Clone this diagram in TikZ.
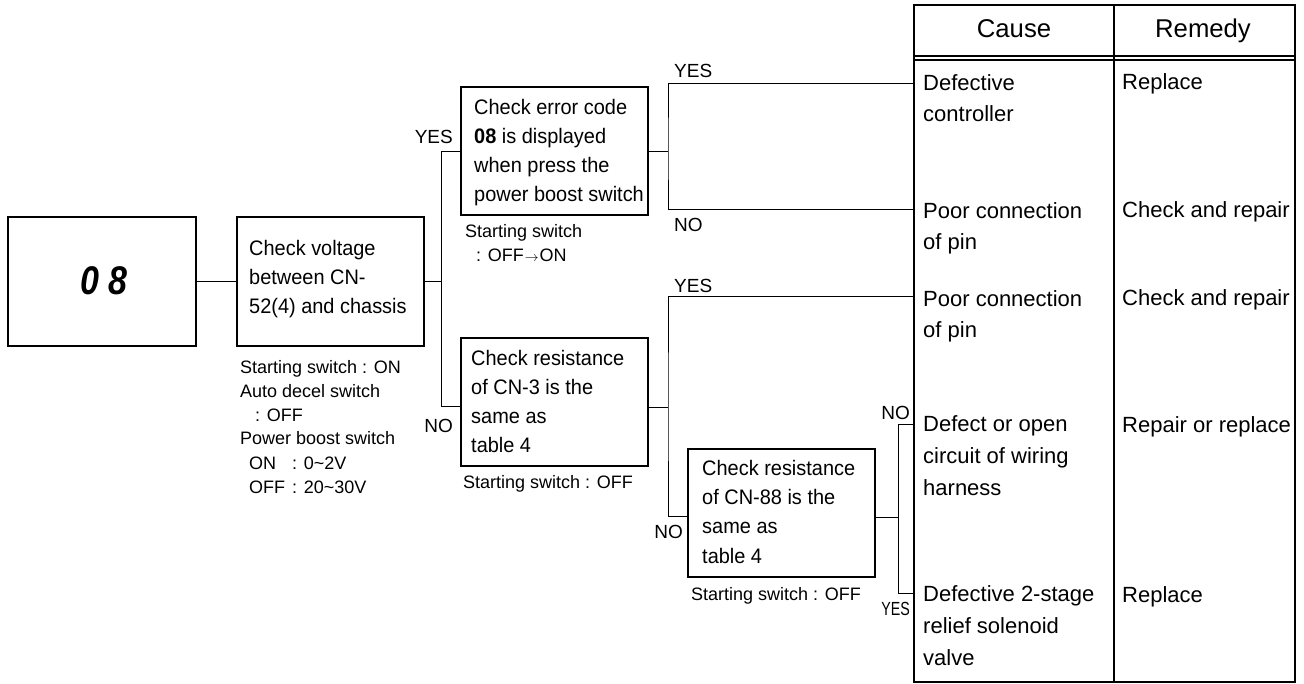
\documentclass[tikz,border=0pt]{standalone}
\usepackage{fontspec}
\setmainfont{Liberation Sans}
\newfontfamily\boxfont{Liberation Sans}[FakeStretch=0.95]
\newfontfamily\segfont{Liberation Sans}[FakeStretch=0.85]
\begin{document}
\begin{tikzpicture}[x=1pt,y=-1pt,
  box/.style={draw,line width=1.2pt,minimum width=187pt,minimum height=128pt,inner sep=0pt},
  boxtext/.style={anchor=base west,align=left,inner sep=0pt,font=\boxfont\fontsize{21}{29.3}\selectfont},
  note/.style={anchor=base west,align=left,inner sep=0pt,font=\fontsize{18}{24}\selectfont},
  yn/.style={inner sep=0pt,font=\fontsize{19}{19}\selectfont},
  conn/.style={line width=0.9pt},
  cell/.style={anchor=base west,align=left,inner sep=0pt,font=\fontsize{22}{31.6}\selectfont},
  head/.style={anchor=base,inner sep=0pt,font=\fontsize{25.7}{26}\selectfont},
  grid/.style={line width=1.1pt}]
\useasboundingbox (0,0) rectangle (1304,684);

% ---- flow boxes (multi-line texts are placed by the baseline of their last line)
\node[box,minimum width=188pt,minimum height=129pt] (disp) at (102,281.5) {};
\node[inner sep=0pt,font=\segfont\bfseries\itshape\fontsize{40}{40}\selectfont] (disptext) at (104,280.5) {0\hspace{9pt}8};
\node[box,minimum height=129pt] (volt) at (330.5,281.5) {};
\node[box] (err) at (554.5,151) {};
\node[box] (cn3) at (554.5,402) {};
\node[box] (cn88) at (781.5,513) {};

\node[boxtext] (volttext) at (249,314) {Check voltage\\between CN-\\52(4) and chassis};
\node[boxtext] (errtext) at (474,202) {Check error code\\\textbf{08} is displayed\\when press the\\power boost switch};
\node[boxtext] (cn3text) at (471,453) {Check resistance\\of CN-3 is the\\same as\\table 4};
\node[boxtext] (cn88text) at (702,563) {Check resistance\\of CN-88 is the\\same as\\table 4};

% ---- conditions under the boxes
\node[note] (voltnote) at (240,493) {Starting switch : ON\\Auto decel switch\\\hspace*{15pt}: OFF\\Power boost switch\\\hspace*{9pt}\makebox[43pt][l]{ON}: 0\textasciitilde2V\\\hspace*{9pt}\makebox[43pt][l]{OFF}: 20\textasciitilde30V};
\node[note] (errnote) at (465,262) {Starting switch\\\hspace*{11pt}: OFF\kern1pt\scalebox{0.8}{$\rightarrow$}\kern1pt ON};
\node[note] (cn3note) at (463,488) {Starting switch : OFF};
\node[note] (cn88note) at (691,600) {Starting switch : OFF};

% ---- cause / remedy table
\draw[grid] (914,5) rectangle (1295,682);
\draw[grid] (1114,5) -- (1114,682);
\draw[grid] (914,56) -- (1295,56);
\draw[grid] (914,60) -- (1295,60);
\node[head] (hcause) at (1014,38) {Cause};
\node[head] (hremedy) at (1203,38) {Remedy};

\node[cell] (c1) at (923,122) {Defective\\controller};
\node[cell] (m1) at (1122,90) {Replace};
\node[cell] (c2) at (923,250) {Poor connection\\of pin};
\node[cell] (m2) at (1122,218) {Check and repair};
\node[cell] (c3) at (923,338) {Poor connection\\of pin};
\node[cell] (m3) at (1122,306) {Check and repair};
\node[cell] (c4) at (923,495) {Defect or open\\circuit of wiring\\harness};
\node[cell] (m4) at (1122,432) {Repair or replace};
\node[cell] (c5) at (923,665) {Defective 2-stage\\relief solenoid\\valve};
\node[cell] (m5) at (1122,602) {Replace};

\coordinate (r1) at (914,83);
\coordinate (r2) at (914,209);
\coordinate (r3) at (914,296);
\coordinate (r4) at (914,424);
\coordinate (r5) at (914,593);

% ---- connectors
\coordinate (nob) at (441,406);
\coordinate (k1) at (668,151);
\coordinate (k2) at (668,407);
\coordinate (k3) at (668,516);
\coordinate (k4) at (898,517);

\draw[conn] (disp.east) -- (volt.west);
\draw[conn] (volt.east) -- (volt.east -| nob);
\draw[conn] (err.west) -| (nob) -- (nob -| cn3.west);
\draw[conn] (err.east) -- (k1);
\draw[conn] (r1) -| (k1) |- (r2);
\draw[conn] (k2 -| cn3.east) -- (k2);
\draw[conn] (r3) -| (k2) |- (k3 -| cn88.west);
\draw[conn] (k4 -| cn88.east) -- (k4);
\draw[conn] (r4) -| (k4) |- (r5);

% ---- branch labels
\node[yn,anchor=base east] (y1) at (453,144) {YES};
\node[yn,anchor=base east] (n1) at (453,432) {NO};
\node[yn,anchor=base west] (y2) at (674,78) {YES};
\node[yn,anchor=base west] (n2) at (674,232) {NO};
\node[yn,anchor=base west] (y3) at (674,293) {YES};
\node[yn,anchor=base east] (n3) at (683,538) {NO};
\node[yn,anchor=base east] (n4) at (910,420) {NO};
\node[yn,anchor=base east] (y4) at (910,615) {\scalebox{0.75}[1]{YES}};
\end{tikzpicture}
\end{document}
